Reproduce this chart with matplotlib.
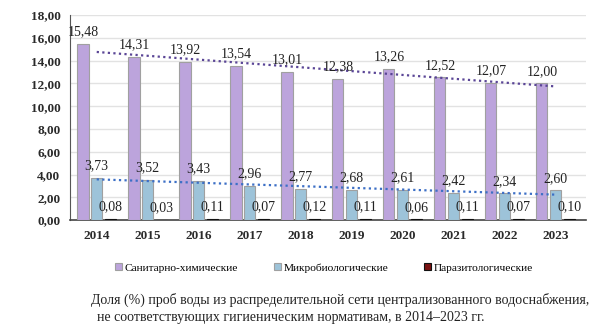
import numpy as np
import matplotlib.pyplot as plt

plt.rcParams.update({"font.family": ["Liberation Serif", "DejaVu Serif"], "axes.unicode_minus": False})

# данные
years = ["2014", "2015", "2016", "2017", "2018", "2019", "2020", "2021", "2022", "2023"]
san_chem = [15.48, 14.31, 13.92, 13.54, 13.01, 12.38, 13.26, 12.52, 12.07, 12.00]
micro = [3.73, 3.52, 3.43, 2.96, 2.77, 2.68, 2.61, 2.42, 2.34, 2.60]
parasit = [0.08, 0.03, 0.11, 0.07, 0.12, 0.11, 0.06, 0.11, 0.07, 0.10]
labels = ["Санитарно-химические", "Микробиологические", "Паразитологические"]
yticks = np.arange(0, 19, 2)

colors = ["#BCA4DC", "#9DC3D9", "#7A1212"]
edges = ["#A0A0A0", "#A0A0A0", "#111111"]

fig = plt.figure(figsize=(6, 3.28), dpi=100)
ax = fig.add_axes([0.117, 0.329, 0.86, 0.625])

x = np.arange(len(years))
w = 0.22
step = 0.27
series = [san_chem, micro, parasit]
for i, vals in enumerate(series):
    pos = x + (i - 1) * step
    ax.bar(pos, vals, width=w, color=colors[i], edgecolor=edges[i], linewidth=0.8,
           label=labels[i], zorder=3)
    for p, v in zip(pos, vals):
        ax.text(p, v + 0.5, f"{v:.2f}".replace(".", ","), ha="center", va="bottom",
                fontsize=10, color="#222222", zorder=5)

# линии тренда
for vals, col in [(san_chem, "#5A4596"), (micro, "#3C6FC6")]:
    k, b = np.polyfit(x, vals, 1)
    ax.plot(x, k * x + b, linestyle=(0, (1, 1.5)), color=col, linewidth=1.6, zorder=4)

ax.set_xlim(-0.52, 9.6)
ax.set_ylim(0, 18)
ax.set_yticks(yticks)
ax.set_yticklabels([f"{t:.2f}".replace(".", ",") for t in yticks], fontsize=9.5, fontweight="bold",
                   color="#2a2a2a")
ax.set_xticks(x)
ax.set_xticklabels(years, fontsize=9.5, fontweight="bold", color="#2a2a2a")
ax.tick_params(axis="both", length=0)
ax.tick_params(axis="y", pad=7)
ax.tick_params(axis="x", pad=7)
ax.grid(axis="y", color="#E2E2E2", linewidth=1, zorder=0)
for s in ["top", "right"]:
    ax.spines[s].set_visible(False)
ax.spines["left"].set_color("#555555")
ax.spines["bottom"].set_color("#444444")
ax.spines["bottom"].set_linewidth(1.2)

fig.legend(loc="center", bbox_to_anchor=(0.54, 1 - 268 / 328), ncol=3, frameon=False,
           fontsize=8.2, handlelength=0.6, handleheight=0.6, handletextpad=0.2, columnspacing=3.2)

fig.text(0.567, 1 - 300 / 328, "Доля (%) проб воды из распределительной сети централизованного водоснабжения,",
         ha="center", va="center", fontsize=10, color="#222222")
fig.text(0.485, 1 - 317 / 328, "не соответствующих гигиеническим нормативам, в 2014–2023 гг.",
         ha="center", va="center", fontsize=10, color="#222222")

fig.savefig("out.png", dpi=100)
